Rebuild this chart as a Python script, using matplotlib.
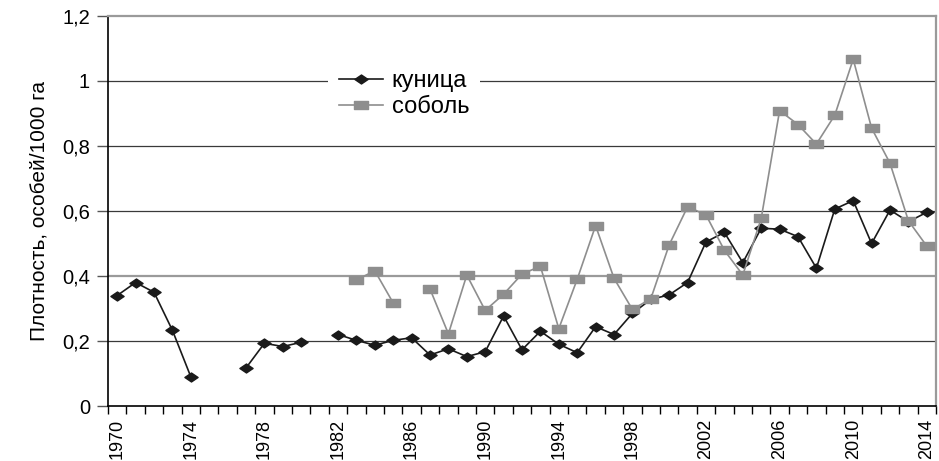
import numpy as np
import matplotlib
matplotlib.use('Agg')
import matplotlib.pyplot as plt
from matplotlib.path import Path
from matplotlib.ticker import FixedLocator, FuncFormatter

nan = np.nan

# Data
years = list(range(1970, 2015))
kunitsa = [0.34, 0.38, 0.35, 0.233, 0.09, nan, nan, 0.117, 0.193, 0.183,
           0.196, nan, 0.22, 0.202, 0.187, 0.202, 0.21, 0.157, 0.176, 0.152,
           0.167, 0.277, 0.173, 0.23, 0.19, 0.164, 0.244, 0.22, 0.285, 0.328,
           0.342, 0.38, 0.505, 0.534, 0.441, 0.547, 0.544, 0.521, 0.424, 0.606,
           0.632, 0.5, 0.603, 0.567, 0.596]
sobol = [nan] * 13 + [0.388, 0.416, 0.317, nan, 0.36, 0.222, 0.403,
                      0.294, 0.344, 0.406, 0.43, 0.238, 0.39, 0.555, 0.393,
                      0.297, 0.33, 0.496, 0.613, 0.588, 0.479, 0.403, 0.577,
                      0.909, 0.866, 0.806, 0.895, 1.067, 0.855, 0.747, 0.57,
                      0.492]
labels = ['куница', 'соболь']
ylabel = 'Плотность, особей/1000 га'

# Markers are a bit wider than tall in the original
diamond = Path([(-1, 0), (0, 0.68), (1, 0), (0, -0.68), (-1, 0)],
               [Path.MOVETO, Path.LINETO, Path.LINETO, Path.LINETO, Path.CLOSEPOLY])
rect = Path([(-1, -0.65), (1, -0.65), (1, 0.65), (-1, 0.65), (-1, -0.65)],
            [Path.MOVETO, Path.LINETO, Path.LINETO, Path.LINETO, Path.CLOSEPOLY])

plt.rcParams['font.family'] = ['Liberation Sans', 'DejaVu Sans']
narrow = ['Liberation Sans Narrow', 'Liberation Sans']

fig = plt.figure(figsize=(9.39, 4.61), dpi=100)
ax = fig.add_axes([108 / 939, 55 / 461, (936 - 108) / 939, (406 - 16) / 461])

# gridlines
for g in [0.2, 0.6, 0.8, 1.0]:
    ax.axhline(g, color='#3a3a3a', lw=0.9, zorder=1)
ax.axhline(0.4, color='#9a9a9a', lw=1.6, zorder=1)

ax.plot(years, kunitsa, color='#1a1a1a', lw=1.2, marker=diamond,
        markersize=9.5, markerfacecolor='#1a1a1a', markeredgecolor='#1a1a1a',
        label=labels[0], zorder=3)
ax.plot(years, sobol, color='#8e8e8e', lw=1.2, marker=rect,
        markersize=9.5, markerfacecolor='#8e8e8e', markeredgecolor='#8e8e8e',
        label=labels[1], zorder=4)

ax.set_xlim(1969.5, 2014.5)
ax.set_ylim(0, 1.2)

ax.xaxis.set_major_locator(FixedLocator(list(range(1970, 2015, 4))))
ax.xaxis.set_minor_locator(FixedLocator([y - 0.5 for y in range(1970, 2016)]))
ax.tick_params(axis='x', which='major', length=0, pad=9)
ax.tick_params(axis='x', which='minor', length=6, width=1, direction='out', color='black')
for t in ax.get_xticklabels():
    t.set_rotation(90)
    t.set_family(narrow)
    t.set_fontsize(13)

ax.set_yticks([0, 0.2, 0.4, 0.6, 0.8, 1.0, 1.2])
ax.yaxis.set_major_formatter(FuncFormatter(lambda v, p: ('%g' % round(v, 1)).replace('.', ',')))
ax.tick_params(axis='y', length=8, width=1, direction='out', color='#555555',
               labelsize=14.5, pad=5)

ax.set_ylabel(ylabel, fontsize=15, family=narrow, labelpad=10)

for s in ['top', 'right']:
    ax.spines[s].set_color('#9a9a9a')
    ax.spines[s].set_linewidth(1.6)
ax.spines['left'].set_color('black')
ax.spines['bottom'].set_color('black')
ax.spines['left'].set_linewidth(1.2)
ax.spines['bottom'].set_linewidth(1.2)

leg = ax.legend(loc='center left', bbox_to_anchor=(328 / 939, 1 - 94 / 461),
                bbox_transform=fig.transFigure, frameon=True, fancybox=False,
                facecolor='white', edgecolor='none', framealpha=1,
                fontsize=17, handlelength=1.9, handletextpad=0.34,
                labelspacing=0.15, borderpad=0.45, borderaxespad=0)
leg.set_zorder(5)

fig.savefig('out.png', dpi=100)
